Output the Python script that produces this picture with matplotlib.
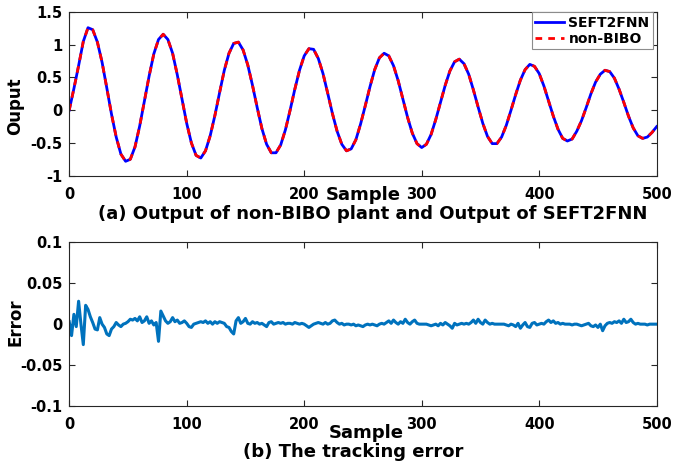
import numpy as np
import matplotlib
matplotlib.use("Agg")
import matplotlib.pyplot as plt

plt.rcParams["font.family"] = "DejaVu Sans"
plt.rcParams["font.weight"] = "bold"

# === Du lieu doc tu hinh ===
# (a) output, moi 4 sample
output_samples = np.arange(0, 501, 4)
output_values = [
    0.00, 0.33, 0.68, 1.05, 1.26,
    1.23, 1.04, 0.73, 0.34, -0.06, -0.41, -0.67, -0.78,
    -0.75, -0.56, -0.24, 0.14, 0.52, 0.86, 1.08, 1.16,
    1.08, 0.87, 0.54, 0.17, -0.20, -0.50, -0.69,
    -0.73, -0.62, -0.39, -0.08, 0.27, 0.61, 0.87, 1.02,
    1.04, 0.92, 0.69, 0.38, 0.04, -0.28, -0.52, -0.65,
    -0.65, -0.53, -0.30, 0.00, 0.32, 0.61, 0.83, 0.94,
    0.93, 0.79, 0.56, 0.26, -0.05, -0.32, -0.52, -0.62,
    -0.59, -0.45, -0.21, 0.07, 0.36, 0.62, 0.80, 0.87,
    0.83, 0.68, 0.45, 0.17, -0.11, -0.35, -0.51, -0.57,
    -0.52, -0.37, -0.14, 0.12, 0.38, 0.60, 0.74, 0.78,
    0.71, 0.55, 0.31, 0.05, -0.20, -0.40, -0.51,
    -0.51, -0.41, -0.23, 0.00, 0.24, 0.46, 0.62, 0.70,
    0.67, 0.56, 0.37, 0.14, -0.09, -0.29, -0.43, -0.47,
    -0.44, -0.32, -0.16, 0.04, 0.25, 0.43, 0.55, 0.61,
    0.59, 0.49, 0.32, 0.12, -0.09, -0.27, -0.39, -0.43,
    -0.41, -0.34, -0.25,
]

# (b) tracking error, moi 2 sample, don vi 1e-3
error_samples = np.arange(0, 501, 2)
error_milli = [
    3, -14, 12, -3, 28, 0, -25, 23, 18, 9,
    2, -6, -7, 8, 0, -4, -12, -14, -6, -3,
    2, -1, -3, 0, 1, 3, 6, 5, 7, 4,
    9, 2, 4, 9, 1, 4, -1, 2, -21, 16,
    10, 4, 1, 3, 8, 3, 5, 1, 2, 4,
    1, -3, -4, 0, 1, 2, 3, 2, 4, 1,
    3, 0, 3, 1, 3, 2, 1, -3, -4, -9,
    -12, 4, 8, 1, 3, 7, 1, 0, 3, 1,
    2, 0, 1, -1, -3, 2, 3, 0, 1, 2,
    1, 2, 0, 1, 1, 0, 2, 1, 0, 1,
    0, -2, -4, -2, 0, 1, 2, 1, 0, 2,
    0, 1, 4, 5, 2, 0, 1, -1, 0, 0,
    -1, 0, -2, -1, -2, -3, -1, 0, -1, 0,
    -1, -2, 0, 1, 0, 2, 4, 1, 5, 2,
    0, 3, 1, 6, 2, 0, 3, 5, 1, 0,
    0, 0, 0, -1, -2, -1, 0, -2, 1, -1,
    2, 0, -2, -5, 1, -1, 0, 1, 0, 1,
    0, 2, 5, 1, 6, 2, 0, 5, 2, 0,
    1, 0, 0, 0, 0, 0, -1, -2, 0, -1,
    -3, 1, -5, -1, 2, -3, -4, 1, 2, -1,
    0, 1, 0, 3, 5, 2, 4, 1, 2, 0,
    1, 0, 0, 0, -1, 0, 0, -1, -2, -1,
    0, 1, -2, -3, -1, -4, 0, -8, -2, 1,
    2, 1, 3, 2, 4, 1, 6, 2, 3, 6,
    2, 0, 1, 0, 0, 0, -1, 0, 0, 0,
    0,
]
error_values = np.array(error_milli) / 1000.0

top_yticks = [-1, -0.5, 0, 0.5, 1, 1.5]
top_yticklabels = ["-1", "-0.5", "0", "0.5", "1", "1.5"]
bot_yticks = [-0.1, -0.05, 0, 0.05, 0.1]
bot_yticklabels = ["-0.1", "-0.05", "0", "0.05", "0.1"]
xticks = [0, 100, 200, 300, 400, 500]

W, H = 673, 465
fig = plt.figure(figsize=(W / 100, H / 100), dpi=100)


def style_axes(ax):
    ax.tick_params(direction="in", length=4, width=0.8, top=True, right=True,
                   labelsize=10.5, colors="#262626")
    ax.tick_params(axis="x", pad=8)
    ax.tick_params(axis="y", pad=5)
    for s in ax.spines.values():
        s.set_color("#262626")
        s.set_linewidth(0.8)
    for lab in ax.get_xticklabels() + ax.get_yticklabels():
        lab.set_fontweight("bold")
        lab.set_color("black")


# --- (a) output ---
ax1 = fig.add_axes([69.2 / W, 1 - 175.7 / H, 587.5 / W, 163.7 / H])
ax1.plot(output_samples, output_values, color="blue", lw=2, label="SEFT2FNN")
ax1.plot(output_samples, output_values, color="red", lw=2,
         linestyle=(0, (2.4, 2.2)), label="non-BIBO")
ax1.set_xlim(0, 500)
ax1.set_ylim(-1, 1.5)
ax1.set_xticks(xticks)
ax1.set_yticks(top_yticks)
ax1.set_yticklabels(top_yticklabels)
style_axes(ax1)
leg = ax1.legend(loc="upper right", bbox_to_anchor=(0.9937, 0.998),
                 borderaxespad=0, fancybox=False, framealpha=1,
                 edgecolor="#8c8c8c", handlelength=2.1, handletextpad=0.3,
                 borderpad=0.25, labelspacing=0.15,
                 prop={"size": 10, "weight": "bold"})
leg.get_frame().set_linewidth(0.8)

# --- (b) error ---
ax2 = fig.add_axes([69.2 / W, 1 - 406 / H, 587.5 / W, 163.7 / H])
ax2.plot(error_samples, error_values, color="#0072BD", lw=2.2)
ax2.set_xlim(0, 500)
ax2.set_ylim(-0.1, 0.1)
ax2.set_xticks(xticks)
ax2.set_yticks(bot_yticks)
ax2.set_yticklabels(bot_yticklabels)
style_axes(ax2)

# nhan truc y (dat bang fig.text de khop vi tri)
fig.text(15 / W, 1 - 106 / H, "Ouput", rotation=90, ha="center",
         va="center", fontsize=12, fontweight="bold")
fig.text(15 / W, 1 - 322 / H, "Error", rotation=90, ha="center",
         va="center", fontsize=12, fontweight="bold")

# nhan truc x va chu thich
fig.text(363 / W, 1 - 195 / H, "Sample", ha="center", va="center",
         fontsize=13, fontweight="bold")
fig.text(373 / W, 1 - 214 / H,
         "(a) Output of non-BIBO plant and Output of SEFT2FNN",
         ha="center", va="center", fontsize=13, fontweight="bold")
fig.text(366 / W, 1 - 433 / H, "Sample", ha="center", va="center",
         fontsize=13, fontweight="bold")
fig.text(353 / W, 1 - 452 / H, "(b) The tracking error", ha="center",
         va="center", fontsize=13, fontweight="bold")

fig.savefig("out.png", dpi=100)
